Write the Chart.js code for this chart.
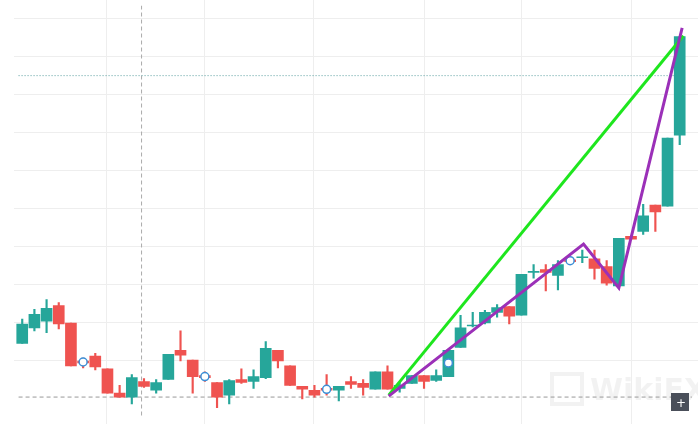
<!DOCTYPE html>
<html>
<head>
<meta charset="utf-8">
<script src="https://cdn.jsdelivr.net/npm/chart.js@4"></script>
<style>
  html, body { margin: 0; padding: 0; background: #fff; }
  #wrap { width: 698px; height: 424px; }
</style>
</head>
<body>
<div id="wrap"><canvas id="chart"></canvas></div>
<script>
// Candles as [open, high, low, close]; price axis is inverted
const candles = [
  [347,322,347,327],[331,312,334,317],[324,302,336,311],[308,305,332,327],[326,326,370,370],
  [366,362,372,366],[360,357,374,371],[373,373,398,398],[398,390,402,402],[402,379,409,382],
  [386,383,392,391],[395,384,398,387],[384,358,384,358],[354,334,365,359],[364,364,398,381],
  [381,376,386,381],[387,387,413,402],[400,384,409,385],[384,373,388,387],[386,374,393,381],
  [382,345,383,352],[354,354,372,365],[370,370,390,390],[391,391,404,394],[395,390,402,400],
  [394,379,400,394],[395,391,406,391],[387,381,393,388],[388,384,400,392],[394,376,394,376],
  [376,370,394,394],[393,387,397,390],[388,380,388,380],[380,380,393,386],[385,374,386,380],
  [381,354,381,354],[351,318,351,331],[329,315,330,328],[326,313,327,315],[315,307,320,310],
  [309,309,327,319],[318,276,318,276],[274,266,280,273],[272,266,293,273],[277,262,292,266],
  [262,258,266,262],[259,251,264,258],[260,251,281,270],[268,262,287,285],[288,239,288,239],
  [237,237,240,240],[232,204,235,216],[205,205,232,212],[206,136,206,136],[133,32,143,32]
];
const markers = [[5,366],[15,381],[25,394],[35,367],[45,262]];
const greenLine = [[30.1,400],[54.3,31]];
const purpleLine = [[30.1,401],[46.1,245],[49.0,290],[54.2,23]];
const xGrid = [6.9,14.9,23.9,33.0,41.0,50.0];
const yGrid = [13,52,91,130,169,208,247,286,325,364];
const dottedLevel = 72;
const dashedLevel = 402;
const crossX = 9.8;

const UP = "#26a69a", DOWN = "#ef5350";
const isUp = c => c[3] < c[0];
const bodies = candles.map((c, i) => {
  let a = c[0], b = c[3];
  if (Math.abs(a - b) < 2) { a -= 1; b += 1; }
  return { x: i, y: [a, b] };
});
const wicks = candles.map((c, i) => ({ x: i, y: [c[1], c[2]] }));
const colors = candles.map(c => isUp(c) ? UP : DOWN);
const pts = arr => arr.map(p => ({ x: p[0], y: p[1] }));

const decor = {
  id: "decor",
  beforeDatasetsDraw(chart) {
    const ctx = chart.ctx, xs = chart.scales.x, ys = chart.scales.y;
    ctx.save();
    ctx.strokeStyle = "#eeeeee";
    ctx.lineWidth = 1;
    xGrid.forEach(v => {
      const px = Math.round(xs.getPixelForValue(v)) + 0.5;
      ctx.beginPath(); ctx.moveTo(px, 0); ctx.lineTo(px, 424); ctx.stroke();
    });
    yGrid.forEach(v => {
      const py = Math.round(ys.getPixelForValue(v)) + 0.5;
      ctx.beginPath(); ctx.moveTo(14, py); ctx.lineTo(698, py); ctx.stroke();
    });
    ctx.fillStyle = "rgba(0,0,0,0.05)";
    ctx.font = "bold 30px 'DejaVu Sans'";
    ctx.fillText("WikiFX", 590, 400);
    ctx.strokeStyle = "rgba(0,0,0,0.05)";
    ctx.lineWidth = 4;
    ctx.strokeRect(552, 374, 30, 30);
    ctx.restore();
  },
  afterDraw(chart) {
    const ctx = chart.ctx;
    ctx.save();
    ctx.fillStyle = "#4a4f5a";
    ctx.fillRect(671, 393, 18, 18);
    ctx.fillStyle = "#fff";
    ctx.font = "12px 'DejaVu Sans'";
    ctx.fillText("+", 676, 407);
    ctx.restore();
  }
};

new Chart(document.getElementById("chart"), {
  type: "bar",
  data: {
    datasets: [
      { type: "line", data: [{ x: -0.3, y: dottedLevel }, { x: 53.6, y: dottedLevel }],
        borderColor: "#5a9fa0", borderWidth: 1, borderDash: [1, 2], pointRadius: 0, order: 5 },
      { type: "line", data: [{ x: -0.3, y: dashedLevel }, { x: 55, y: dashedLevel }],
        borderColor: "#999", borderWidth: 1, borderDash: [4, 3], pointRadius: 0, order: 5 },
      { type: "line", data: [{ x: crossX, y: 0 }, { x: crossX, y: 424 }],
        borderColor: "#aaa", borderWidth: 1, borderDash: [4, 3], pointRadius: 0, order: 5 },
      { data: wicks, backgroundColor: colors, barThickness: 1.5, grouped: false, order: 4 },
      { data: bodies, backgroundColor: colors, barThickness: 11, grouped: false, order: 3 },
      { type: "line", data: markers.map(m => ({ x: m[0], y: m[1] })), showLine: false,
        pointRadius: 4, pointBackgroundColor: "#fff", pointBorderColor: "#3d8fd6",
        pointBorderWidth: 1.5, order: 2 },
      { type: "line", data: pts(greenLine), borderColor: "#1ee61e", borderWidth: 3,
        pointRadius: 0, order: 1 },
      { type: "line", data: pts(purpleLine), borderColor: "#9b30b8", borderWidth: 3,
        pointRadius: 0, order: 0 }
    ]
  },
  options: {
    animation: false,
    maintainAspectRatio: false,
    layout: { padding: 0 },
    plugins: { legend: { display: false }, tooltip: { enabled: false } },
    scales: {
      x: { type: "linear", min: -1.374, max: 55.05, offset: false, display: false },
      y: { reverse: true, min: 0, max: 424, display: false }
    }
  },
  plugins: [decor]
});
</script>
</body>
</html>
